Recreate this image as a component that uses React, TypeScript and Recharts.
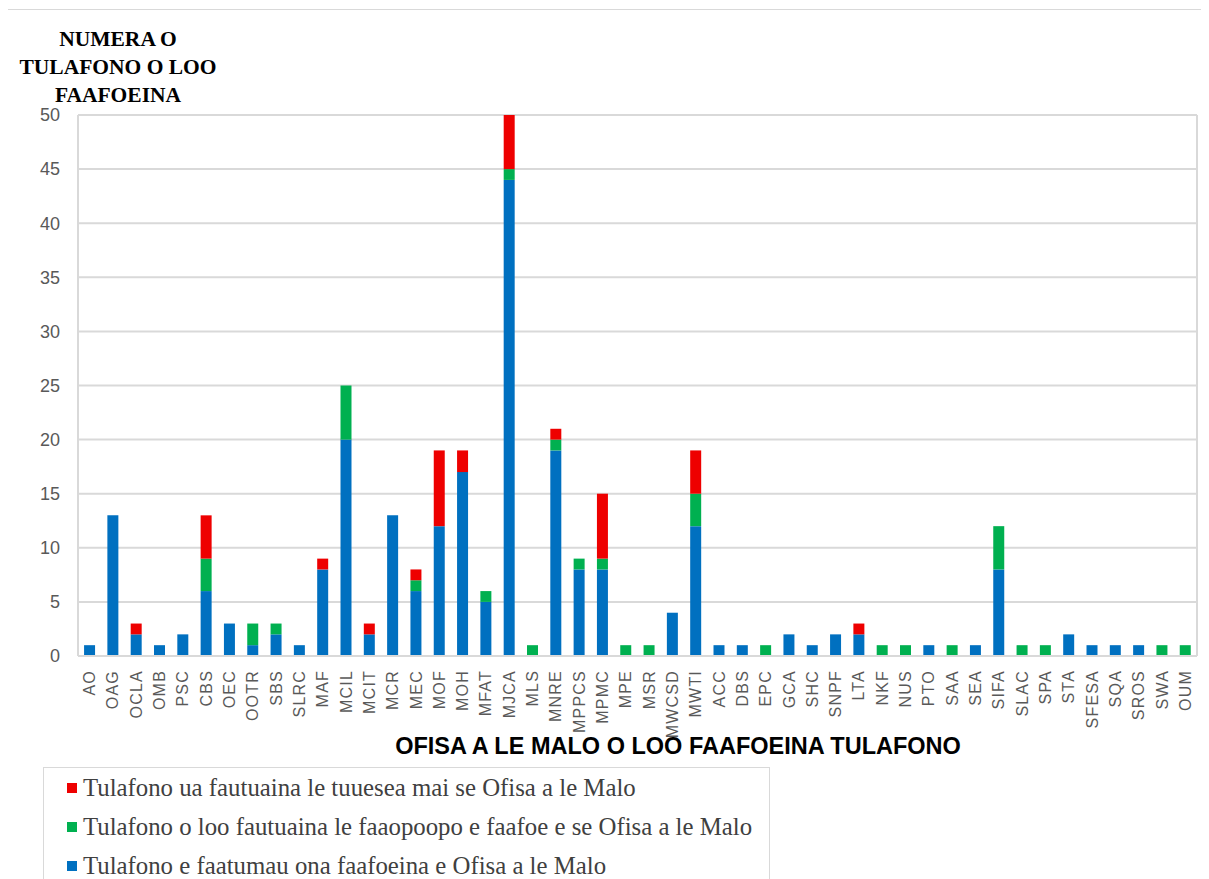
import React from "react";
import { BarChart, Bar, XAxis, YAxis, CartesianGrid } from "recharts";

const categories = ["AO","OAG","OCLA","OMB","PSC","CBS","OEC","OOTR","SBS","SLRC","MAF","MCIL","MCIT","MCR","MEC","MOF","MOH","MFAT","MJCA","MLS","MNRE","MPPCS","MPMC","MPE","MSR","MWCSD","MWTI","ACC","DBS","EPC","GCA","SHC","SNPF","LTA","NKF","NUS","PTO","SAA","SEA","SIFA","SLAC","SPA","STA","SFESA","SQA","SROS","SWA","OUM"];
const administered = [1,13,2,1,2,6,3,1,2,1,8,20,2,13,6,12,17,5,44,0,19,8,8,0,0,4,12,1,1,0,2,1,2,2,0,0,1,0,1,8,0,0,2,1,1,1,0,0];
const advisedAdditional = [0,0,0,0,0,3,0,2,1,0,0,5,0,0,1,0,0,1,1,1,1,1,1,1,1,0,3,0,0,1,0,0,0,0,1,1,0,1,0,4,1,1,0,0,0,0,1,1];
const advisedDirect = [0,0,1,0,0,4,0,0,0,0,1,0,1,0,1,7,2,0,5,0,1,0,6,0,0,0,4,0,0,0,0,0,0,1,0,0,0,0,0,0,0,0,0,0,0,0,0,0];
const yTicks = [0,5,10,15,20,25,30,35,40,45,50];

const seriesNames = {
  red: "Tulafono ua fautuaina le tuuesea mai se Ofisa a le Malo",
  green: "Tulafono o loo fautuaina le faaopoopo e faafoe e se Ofisa a le Malo",
  blue: "Tulafono e faatumau ona faafoeina e Ofisa a le Malo",
};

const RED = "#EE0000";
const GREEN = "#00B050";
const BLUE = "#0070C0";

const data = categories.map((c, i) => ({
  name: c,
  blue: administered[i],
  green: advisedAdditional[i],
  red: advisedDirect[i],
}));

const XTick = (props: any) => {
  const { x, y, payload } = props;
  return (
    <text
      x={x}
      y={y}
      transform={`rotate(-90, ${x}, ${y})`}
      textAnchor="end"
      dominantBaseline="central"
      fill="#595959"
      fontSize={16}
      letterSpacing={1.2}
      fontFamily="Liberation Sans, Arial, sans-serif"
    >
      {payload.value}
    </text>
  );
};

const legendItems = [
  { color: RED, text: seriesNames.red },
  { color: GREEN, text: seriesNames.green },
  { color: BLUE, text: seriesNames.blue },
];

export default function App() {
  return (
    <div
      style={{
        position: "relative",
        width: 1201,
        height: 871,
        overflow: "hidden",
      }}
    >
      <div
        style={{
          position: "absolute",
          left: -1,
          top: 1,
          width: 1220,
          height: 900,
          border: "1px solid #d9d9d9",
          boxSizing: "border-box",
        }}
      />
      <BarChart
        width={1201}
        height={871}
        data={data}
        barCategoryGap="26%"
        margin={{ top: 107, right: 12, left: 10, bottom: 158 }}
      >
        <CartesianGrid
          stroke="#d9d9d9"
          strokeWidth={2}
          verticalCoordinatesGenerator={({ offset }: any) => [offset.left, offset.left + offset.width]}
        />
        <XAxis
          dataKey="name"
          interval={0}
          height={65}
          tick={<XTick />}
          tickLine={false}
          tickMargin={8}
          axisLine={{ stroke: "#d9d9d9", strokeWidth: 2 }}
        />
        <YAxis
          width={60}
          domain={[0, 50]}
          ticks={yTicks}
          interval={0}
          tickLine={false}
          axisLine={false}
          tickMargin={12}
          tick={{ fill: "#595959", fontSize: 18, fontFamily: "Liberation Sans, Arial, sans-serif" }}
        />
        <Bar dataKey="blue" name={seriesNames.blue} stackId="a" fill={BLUE} isAnimationActive={false} />
        <Bar dataKey="green" name={seriesNames.green} stackId="a" fill={GREEN} isAnimationActive={false} />
        <Bar dataKey="red" name={seriesNames.red} stackId="a" fill={RED} isAnimationActive={false} />
      </BarChart>
      <div
        style={{
          position: "absolute",
          left: 35,
          top: 759,
          width: 727,
          height: 140,
          border: "1px solid #d9d9d9",
          boxSizing: "border-box",
          paddingTop: 0,
          background: "#fff",
        }}
      >
        {legendItems.map((it) => (
          <div
            key={it.text}
            style={{
              display: "flex",
              alignItems: "center",
              height: 39.3,
              paddingLeft: 23,
              whiteSpace: "nowrap",
            }}
          >
            <span style={{ width: 10, height: 10, background: it.color, display: "inline-block", marginRight: 6, flex: "none" }} />
            <span
              style={{
                fontFamily: "Liberation Serif, serif",
                fontSize: 24.8,
                color: "#404040",
                lineHeight: "28px",
              }}
            >
              {it.text}
            </span>
          </div>
        ))}
      </div>
      <div
        style={{
          position: "absolute",
          left: 10,
          top: 17,
          width: 200,
          textAlign: "center",
          fontFamily: "Liberation Serif, serif",
          fontWeight: "bold",
          fontSize: 21.5,
          lineHeight: "28px",
          color: "#000",
          whiteSpace: "nowrap",
        }}
      >
        NUMERA O<br />TULAFONO O LOO<br />FAAFOEINA
      </div>
      <div
        style={{
          position: "absolute",
          left: 270,
          top: 725,
          width: 800,
          textAlign: "center",
          fontFamily: "Liberation Sans, Arial, sans-serif",
          fontWeight: "bold",
          fontSize: 23.5,
          color: "#000",
        }}
      >
        OFISA A LE MALO O LOO FAAFOEINA TULAFONO
      </div>
    </div>
  );
}
